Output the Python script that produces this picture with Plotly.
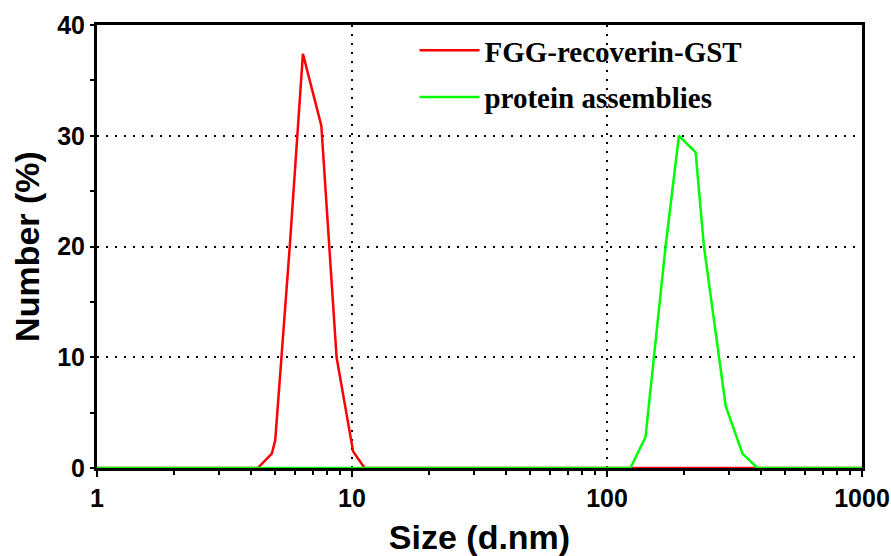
import plotly.graph_objects as go

# DLS number distributions (size in d.nm, number %)
red_name = "FGG-recoverin-GST"
red_size = [1, 4.27, 4.85, 5.0, 5.7, 6.42, 7.58, 8.7, 10.1, 11.2, 1000]
red_number = [0, 0, 1.3, 2.5, 20, 37.4, 30.9, 10, 1.5, 0, 0]

green_name = "protein assemblies"
green_size = [1, 123.6, 141.6, 152.7, 169.7, 191.4, 222.6, 240, 274.8, 292, 339.7, 389, 1000]
green_number = [0, 0, 2.8, 10, 20, 30, 28.5, 20, 10, 5.6, 1.3, 0, 0]

x_tickvals = [1, 10, 100, 1000]
x_ticktext = ["1", "10", "100", "1000"]
x_minor = [2, 3, 4, 5, 6, 7, 8, 9, 20, 30, 40, 50, 60, 70, 80, 90,
           200, 300, 400, 500, 600, 700, 800, 900]
y_tickvals = [0, 10, 20, 30, 40]

fig = go.Figure()
fig.add_trace(go.Scatter(x=red_size, y=red_number, mode="lines", name=red_name,
                         legendgroup="a",
                         line=dict(color="#ff0000", width=2.5)))
fig.add_trace(go.Scatter(x=green_size, y=green_number, mode="lines", name=green_name,
                         legendgroup="b",
                         line=dict(color="#00ff00", width=2.5)))

axis_font = dict(family="Liberation Sans, Arial, sans-serif", size=25, color="black")
title_font = dict(family="Liberation Sans, Arial, sans-serif", size=34, color="black")

fig.update_layout(
    width=891, height=556,
    margin=dict(l=97, r=29, t=25, b=88),
    paper_bgcolor="white", plot_bgcolor="white",
    showlegend=True,
    legend=dict(x=0.415, y=1.0, xanchor="left", yanchor="top",
                bgcolor="rgba(0,0,0,0)", traceorder="grouped", tracegroupgap=6,
                font=dict(family="Liberation Serif, Times New Roman, serif", size=29,
                          color="black", weight="bold"),
                itemwidth=60),
    xaxis=dict(type="log", range=[0, 3], automargin=False,
               tickvals=x_tickvals, ticktext=[f"<b>{t}</b>" for t in x_ticktext],
               tickfont=axis_font, ticks="outside", ticklen=6, tickwidth=2, tickcolor="black",
               minor=dict(tickvals=x_minor, ticks="outside", ticklen=4, tickwidth=1.5, tickcolor="black",
                          showgrid=False),
               showline=True, linecolor="black", linewidth=3, mirror=True,
               showgrid=True, gridcolor="black", gridwidth=1.5, griddash="2px,7px",
               zeroline=False, layer="below traces",
               title=dict(text="<b>Size (d.nm)</b>", font=title_font, standoff=16)),
    yaxis=dict(range=[0, 40], tickvals=y_tickvals, automargin=False,
               ticktext=[f"<b>{v}</b>" for v in y_tickvals],
               tickfont=axis_font, ticks="outside", ticklen=4, tickwidth=2, tickcolor="black",
               minor=dict(dtick=5, ticks="outside", ticklen=4, tickwidth=2, tickcolor="black",
                          showgrid=False),
               showline=True, linecolor="black", linewidth=3, mirror=True,
               showgrid=True, gridcolor="black", gridwidth=1.5, griddash="2px,7px",
               zeroline=False, layer="below traces",
               title=dict(text="<b>Number (%)</b>", font=title_font, standoff=8)),
)

fig.write_html("out.html")
